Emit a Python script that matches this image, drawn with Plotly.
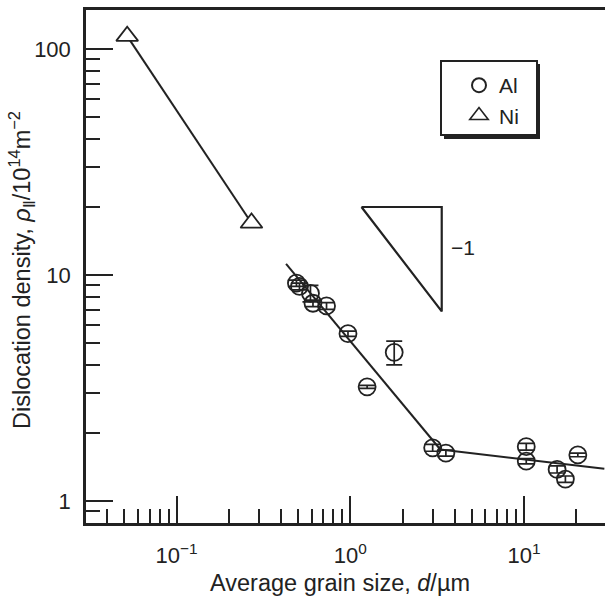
import plotly.graph_objects as go

# Al samples: average grain size d (µm), dislocation density (10^14 m^-2), error
al_d = [0.49, 0.51, 0.59, 0.61, 0.73, 0.97, 1.25, 1.79, 2.98, 3.55, 10.3, 10.3, 15.5, 17.3, 20.4]
al_rho = [9.2, 8.9, 8.3, 7.5, 7.3, 5.5, 3.2, 4.55, 1.72, 1.63, 1.74, 1.50, 1.38, 1.25, 1.60]
al_err = [0.3, 0.3, 0.7, 0.25, 0.25, 0.15, 0.05, 0.55, 0.06, 0.05, 0.06, 0.04, 0.05, 0.04, 0.03]

# Ni samples
ni_d = [0.052, 0.27]
ni_rho = [114, 17.0]

# Fitted lines for Al (two regimes)
fit1_d = [0.427, 3.3]
fit1_rho = [11.2, 1.69]
fit2_d = [3.3, 29]
fit2_rho = [1.69, 1.39]

# Slope guide (slope -1 on log-log)
slope_d = [1.16, 3.36, 3.36, 1.16]
slope_rho = [20.0, 20.0, 6.9, 20.0]
slope_label_pos = (4.45, 12.9)
slope_label = "\u22121"

# Tick labels
x_tickvals = [0.1, 1, 10]
x_ticktext = ["10<sup>\u22121</sup>", "10<sup>0</sup>", "10<sup>1</sup>"]
y_tickvals = [1, 10, 100]
y_ticktext = ["1", "10", "100"]

x_minor = [m * 10.0 ** k for k in (-2, -1, 0, 1) for m in range(2, 10)]
y_minor = [m * 10.0 ** k for k in (-1, 0, 1, 2) for m in range(2, 10)]

INK = "#222222"
FONT = "Liberation Sans, Arial, sans-serif"

fig = go.Figure()

for xs, ys in ((fit1_d, fit1_rho), (fit2_d, fit2_rho), (ni_d, ni_rho)):
    fig.add_trace(go.Scatter(x=xs, y=ys, mode="lines", showlegend=False,
                             line=dict(color=INK, width=2), hoverinfo="skip"))

fig.add_trace(go.Scatter(x=slope_d, y=slope_rho, mode="lines", showlegend=False,
                         line=dict(color=INK, width=2.2), hoverinfo="skip"))
fig.add_trace(go.Scatter(x=[slope_label_pos[0]], y=[slope_label_pos[1]], mode="text",
                         text=[slope_label], showlegend=False,
                         textfont=dict(family=FONT, size=21, color=INK)))

fig.add_trace(go.Scatter(
    x=al_d, y=al_rho, mode="markers", name="Al", showlegend=False,
    marker=dict(symbol="circle-open", size=17, color=INK, line=dict(width=1.8, color=INK)),
    error_y=dict(type="data", array=al_err, visible=True, color=INK, thickness=1.7, width=8),
))
fig.add_trace(go.Scatter(
    x=ni_d, y=ni_rho, mode="markers", name="Ni", showlegend=False,
    marker=dict(symbol="triangle-up", size=19, color="white", line=dict(width=1.8, color=INK)),
))

# Legend entries
fig.add_trace(go.Scatter(x=[None], y=[None], mode="markers", name="Al",
                         marker=dict(symbol="circle-open", size=14, color=INK,
                                     line=dict(width=2, color=INK))))
fig.add_trace(go.Scatter(x=[None], y=[None], mode="markers", name="Ni",
                         marker=dict(symbol="triangle-up-open", size=16, color=INK,
                                     line=dict(width=1.6, color=INK))))

W, H = 605, 599
L, R, T, B = 86, 0, 10, 76
pw, ph = W - L - R, H - T - B

def px(xp):
    return (xp - L) / pw

def py(yp):
    return (H - B - yp) / ph

# Legend frame with drop shadow
fig.add_shape(type="rect", xref="paper", yref="paper",
              x0=px(444), x1=px(540), y0=py(139), y1=py(64),
              fillcolor=INK, line=dict(width=0), layer="above")
fig.add_shape(type="rect", xref="paper", yref="paper",
              x0=px(441), x1=px(537), y0=py(135), y1=py(61),
              fillcolor="white", line=dict(width=2, color=INK), layer="above")

fig.add_annotation(text="Average grain size, <i>d</i>/\u00b5m", xref="paper", yref="paper",
                   x=px(340), y=py(583), showarrow=False, xanchor="center", yanchor="middle",
                   font=dict(family=FONT, size=23.5, color=INK))
fig.add_annotation(text="Dislocation density, <i>\u03c1</i><sub>\u2161</sub>/10<sup>14</sup>m<sup>\u22122</sup>",
                   xref="paper", yref="paper", x=px(21), y=py(270), textangle=-90,
                   showarrow=False, xanchor="center", yanchor="middle",
                   font=dict(family=FONT, size=23.5, color=INK))

axis_common = dict(type="log", showgrid=False, zeroline=False, showline=True,
                   linecolor=INK, linewidth=2.5, ticks="inside", ticklen=27,
                   tickwidth=2, tickcolor=INK, tickmode="array",
                   tickfont=dict(family=FONT, size=22, color=INK))

fig.update_xaxes(**axis_common, range=[-1.521, 1.466], mirror=True,
                 tickvals=x_tickvals, ticktext=x_ticktext, ticklabelstandoff=11,
                 minor=dict(ticks="inside", ticklen=14, tickwidth=2, tickcolor=INK,
                            tickmode="array", tickvals=x_minor, showgrid=False))
fig.update_yaxes(**axis_common, range=[-0.0973, 2.1726],
                 tickvals=y_tickvals, ticktext=y_ticktext, ticklabelstandoff=8,
                 minor=dict(ticks="inside", ticklen=14, tickwidth=2, tickcolor=INK,
                            tickmode="array", tickvals=y_minor, showgrid=False))

fig.update_layout(
    width=W, height=H, margin=dict(l=L, r=R, t=T, b=B),
    paper_bgcolor="white", plot_bgcolor="white",
    font=dict(family=FONT, color=INK),
    legend=dict(x=px(459), y=py(65), xanchor="left", yanchor="top",
                bgcolor="rgba(0,0,0,0)", borderwidth=0,
                font=dict(family=FONT, size=21, color=INK), tracegroupgap=0),
)

fig.write_html("out.html")
